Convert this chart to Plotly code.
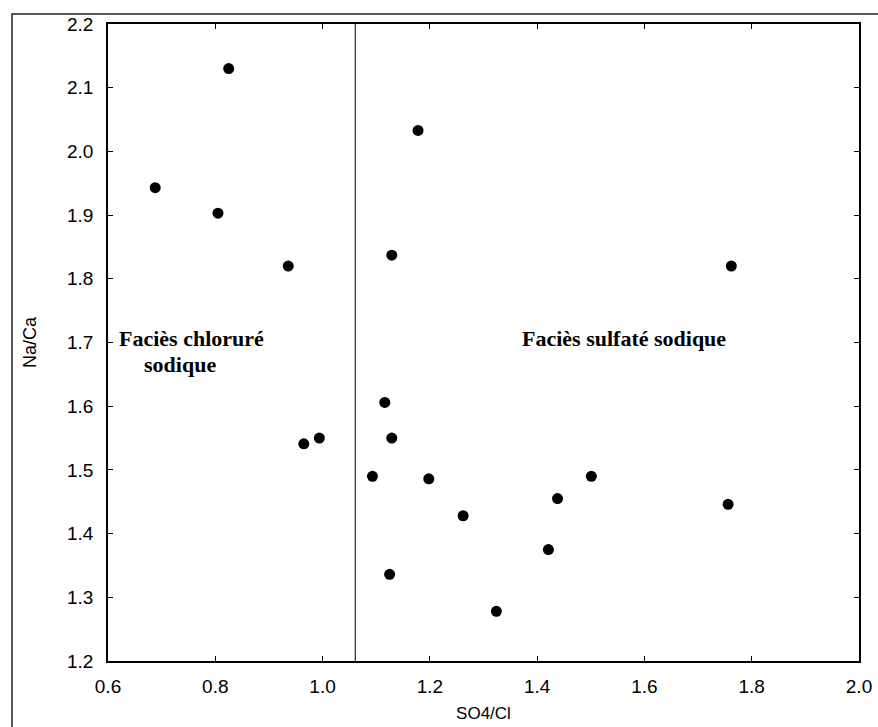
import plotly.graph_objects as go

# SO4/Cl ratios (x) and Na/Ca ratios (y)
so4_cl = [0.825, 0.688, 0.805, 0.936, 0.965, 0.994,
          1.178, 1.129, 1.762, 1.116, 1.129, 1.093, 1.198, 1.262,
          1.421, 1.125, 1.324, 1.501, 1.438, 1.756]
na_ca = [2.130, 1.943, 1.903, 1.820, 1.541, 1.550,
         2.033, 1.837, 1.820, 1.606, 1.550, 1.490, 1.486, 1.428,
         1.375, 1.336, 1.278, 1.490, 1.455, 1.446]

separator_x = 1.061
x_ticks = [0.6, 0.8, 1.0, 1.2, 1.4, 1.6, 1.8, 2.0]
y_ticks = [1.2, 1.3, 1.4, 1.5, 1.6, 1.7, 1.8, 1.9, 2.0, 2.1, 2.2]

fig = go.Figure()
fig.add_trace(go.Scatter(
    x=so4_cl, y=na_ca, mode="markers",
    marker=dict(color="black", size=11, symbol="circle"),
    showlegend=False,
))

# vertical separator line
fig.add_shape(type="line", xref="x", yref="y",
              x0=separator_x, x1=separator_x, y0=1.2, y1=2.2,
              line=dict(color="#222", width=1.2))

# outer frame (partially cut off right/bottom)
fig.add_shape(type="rect", xref="paper", yref="paper",
              x0=-0.1278, x1=1.05, y0=-0.15, y1=1.0157,
              line=dict(color="#222", width=1.5), layer="below")

serif = "Liberation Serif, Times New Roman, serif"
fig.add_annotation(x=0.617, y=1.706, xref="x", yref="y", xanchor="left", yanchor="middle",
                   text="<b>Faciès chloruré</b>", showarrow=False,
                   font=dict(family=serif, size=22, color="black"))
fig.add_annotation(x=0.663, y=1.665, xref="x", yref="y", xanchor="left", yanchor="middle",
                   text="<b>sodique</b>", showarrow=False,
                   font=dict(family=serif, size=22, color="black"))
fig.add_annotation(x=1.561, y=1.707, xref="x", yref="y", xanchor="center", yanchor="middle",
                   text="<b>Faciès sulfaté sodique</b>", showarrow=False,
                   font=dict(family=serif, size=22, color="black"))

sans = "Liberation Sans, Arial, sans-serif"
axis_common = dict(
    showline=True, linecolor="black", linewidth=1.5, mirror="ticks",
    ticks="inside", ticklen=5, tickwidth=1.2, tickcolor="black",
    showgrid=False, zeroline=False, automargin=False,
    tickfont=dict(family=sans, size=19, color="black"),
)
fig.update_xaxes(range=[0.6, 2.0], tickvals=x_ticks,
                 ticktext=[f"{v:.1f}" for v in x_ticks],
                 ticklabelstandoff=7,
                 title=dict(text="SO4/Cl", font=dict(family=sans, size=17, color="black"), standoff=12),
                 **axis_common)
fig.update_yaxes(range=[1.2, 2.2], tickvals=y_ticks,
                 ticktext=[f"{v:.1f}" for v in y_ticks],
                 ticklabelstandoff=9,
                 title=dict(text="Na/Ca", font=dict(family=sans, size=18, color="black"), standoff=26),
                 **axis_common)

fig.update_layout(
    width=878, height=727,
    margin=dict(l=108, r=19, t=24, b=66),
    plot_bgcolor="white", paper_bgcolor="white",
)

fig.write_html("out.html")
